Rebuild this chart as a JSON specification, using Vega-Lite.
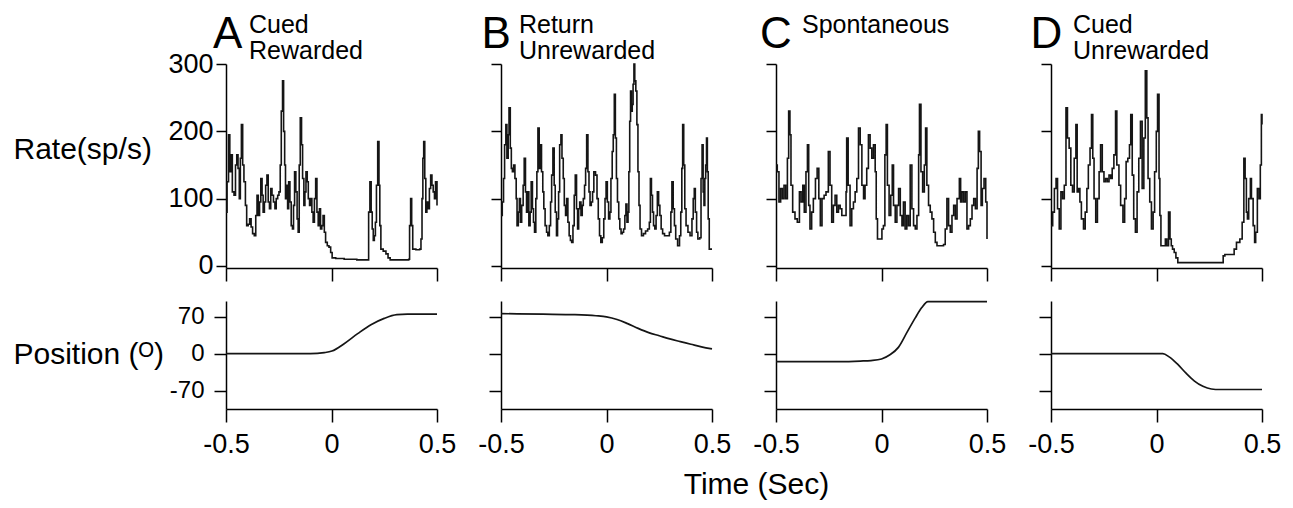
{
"$schema":"https://vega.github.io/schema/vega-lite/v6.json",
"background":"white",
"padding":{"left":13,"top":12,"right":5,"bottom":5},
"config":{"font":"Liberation Sans","view":{"stroke":null},"axis":{"domainColor":"#000","tickColor":"#000","labelColor":"#000","titleColor":"#000","domainWidth":1.5,"tickWidth":1.5,"grid":false,"labelFlush":false,"labelOverlap":false,"titleFontWeight":"normal"},"text":{"color":"#000"}},
"datasets":{
"rate":[
{"panel":"A","time":-0.5,"value":80},{"panel":"A","time":-0.495,"value":125},{"panel":"A","time":-0.488,"value":195},{"panel":"A","time":-0.482,"value":140},{"panel":"A","time":-0.477,"value":165},{"panel":"A","time":-0.47,"value":110},{"panel":"A","time":-0.462,"value":105},{"panel":"A","time":-0.455,"value":150},{"panel":"A","time":-0.449,"value":165},{"panel":"A","time":-0.443,"value":145},{"panel":"A","time":-0.437,"value":100},{"panel":"A","time":-0.432,"value":160},{"panel":"A","time":-0.427,"value":210},{"panel":"A","time":-0.421,"value":150},{"panel":"A","time":-0.415,"value":125},{"panel":"A","time":-0.408,"value":90},{"panel":"A","time":-0.402,"value":60},{"panel":"A","time":-0.395,"value":62},{"panel":"A","time":-0.388,"value":70},{"panel":"A","time":-0.381,"value":58},{"panel":"A","time":-0.374,"value":48},{"panel":"A","time":-0.366,"value":45},{"panel":"A","time":-0.359,"value":75},{"panel":"A","time":-0.353,"value":105},{"panel":"A","time":-0.347,"value":75},{"panel":"A","time":-0.341,"value":95},{"panel":"A","time":-0.335,"value":130},{"panel":"A","time":-0.329,"value":105},{"panel":"A","time":-0.324,"value":80},{"panel":"A","time":-0.318,"value":95},{"panel":"A","time":-0.312,"value":120},{"panel":"A","time":-0.306,"value":135},{"panel":"A","time":-0.3,"value":95},{"panel":"A","time":-0.294,"value":85},{"panel":"A","time":-0.288,"value":115},{"panel":"A","time":-0.282,"value":105},{"panel":"A","time":-0.275,"value":95},{"panel":"A","time":-0.268,"value":85},{"panel":"A","time":-0.262,"value":100},{"panel":"A","time":-0.255,"value":105},{"panel":"A","time":-0.249,"value":110},{"panel":"A","time":-0.243,"value":150},{"panel":"A","time":-0.238,"value":230},{"panel":"A","time":-0.232,"value":275},{"panel":"A","time":-0.227,"value":200},{"panel":"A","time":-0.222,"value":150},{"panel":"A","time":-0.218,"value":100},{"panel":"A","time":-0.213,"value":120},{"panel":"A","time":-0.208,"value":85},{"panel":"A","time":-0.203,"value":125},{"panel":"A","time":-0.197,"value":95},{"panel":"A","time":-0.191,"value":60},{"panel":"A","time":-0.185,"value":55},{"panel":"A","time":-0.18,"value":90},{"panel":"A","time":-0.175,"value":140},{"panel":"A","time":-0.169,"value":110},{"panel":"A","time":-0.163,"value":70},{"panel":"A","time":-0.158,"value":50},{"panel":"A","time":-0.153,"value":150},{"panel":"A","time":-0.148,"value":220},{"panel":"A","time":-0.142,"value":180},{"panel":"A","time":-0.137,"value":130},{"panel":"A","time":-0.131,"value":90},{"panel":"A","time":-0.126,"value":110},{"panel":"A","time":-0.121,"value":140},{"panel":"A","time":-0.115,"value":125},{"panel":"A","time":-0.11,"value":100},{"panel":"A","time":-0.104,"value":90},{"panel":"A","time":-0.098,"value":100},{"panel":"A","time":-0.093,"value":80},{"panel":"A","time":-0.087,"value":65},{"panel":"A","time":-0.081,"value":100},{"panel":"A","time":-0.075,"value":130},{"panel":"A","time":-0.069,"value":80},{"panel":"A","time":-0.063,"value":60},{"panel":"A","time":-0.057,"value":85},{"panel":"A","time":-0.052,"value":55},{"panel":"A","time":-0.046,"value":60},{"panel":"A","time":-0.04,"value":75},{"panel":"A","time":-0.034,"value":50},{"panel":"A","time":-0.028,"value":35},{"panel":"A","time":-0.02,"value":30},{"panel":"A","time":-0.012,"value":28},{"panel":"A","time":-0.004,"value":20},{"panel":"A","time":0.003,"value":12},{"panel":"A","time":0.02,"value":11},{"panel":"A","time":0.06,"value":10},{"panel":"A","time":0.12,"value":9},{"panel":"A","time":0.17,"value":9},{"panel":"A","time":0.176,"value":80},{"panel":"A","time":0.182,"value":125},{"panel":"A","time":0.188,"value":80},{"panel":"A","time":0.193,"value":55},{"panel":"A","time":0.198,"value":38},{"panel":"A","time":0.203,"value":45},{"panel":"A","time":0.208,"value":65},{"panel":"A","time":0.213,"value":120},{"panel":"A","time":0.219,"value":185},{"panel":"A","time":0.225,"value":120},{"panel":"A","time":0.229,"value":60},{"panel":"A","time":0.234,"value":25},{"panel":"A","time":0.245,"value":22},{"panel":"A","time":0.258,"value":18},{"panel":"A","time":0.268,"value":12},{"panel":"A","time":0.278,"value":9},{"panel":"A","time":0.3,"value":9},{"panel":"A","time":0.34,"value":9},{"panel":"A","time":0.366,"value":10},{"panel":"A","time":0.37,"value":60},{"panel":"A","time":0.375,"value":100},{"panel":"A","time":0.38,"value":60},{"panel":"A","time":0.385,"value":25},{"panel":"A","time":0.4,"value":24},{"panel":"A","time":0.418,"value":25},{"panel":"A","time":0.424,"value":40},{"panel":"A","time":0.429,"value":100},{"panel":"A","time":0.433,"value":160},{"panel":"A","time":0.437,"value":185},{"panel":"A","time":0.442,"value":130},{"panel":"A","time":0.447,"value":80},{"panel":"A","time":0.452,"value":95},{"panel":"A","time":0.458,"value":85},{"panel":"A","time":0.464,"value":115},{"panel":"A","time":0.47,"value":135},{"panel":"A","time":0.476,"value":120},{"panel":"A","time":0.482,"value":110},{"panel":"A","time":0.488,"value":100},{"panel":"A","time":0.493,"value":125},{"panel":"A","time":0.5,"value":90},
{"panel":"B","time":-0.5,"value":75},{"panel":"B","time":-0.494,"value":95},{"panel":"B","time":-0.488,"value":130},{"panel":"B","time":-0.483,"value":180},{"panel":"B","time":-0.477,"value":210},{"panel":"B","time":-0.472,"value":160},{"panel":"B","time":-0.466,"value":195},{"panel":"B","time":-0.462,"value":235},{"panel":"B","time":-0.456,"value":175},{"panel":"B","time":-0.451,"value":145},{"panel":"B","time":-0.446,"value":140},{"panel":"B","time":-0.44,"value":150},{"panel":"B","time":-0.434,"value":130},{"panel":"B","time":-0.428,"value":100},{"panel":"B","time":-0.424,"value":60},{"panel":"B","time":-0.418,"value":80},{"panel":"B","time":-0.413,"value":100},{"panel":"B","time":-0.408,"value":65},{"panel":"B","time":-0.402,"value":90},{"panel":"B","time":-0.395,"value":120},{"panel":"B","time":-0.39,"value":160},{"panel":"B","time":-0.384,"value":110},{"panel":"B","time":-0.379,"value":80},{"panel":"B","time":-0.374,"value":110},{"panel":"B","time":-0.368,"value":60},{"panel":"B","time":-0.362,"value":80},{"panel":"B","time":-0.357,"value":125},{"panel":"B","time":-0.351,"value":85},{"panel":"B","time":-0.346,"value":65},{"panel":"B","time":-0.341,"value":50},{"panel":"B","time":-0.335,"value":100},{"panel":"B","time":-0.33,"value":140},{"panel":"B","time":-0.325,"value":205},{"panel":"B","time":-0.319,"value":145},{"panel":"B","time":-0.314,"value":180},{"panel":"B","time":-0.308,"value":140},{"panel":"B","time":-0.302,"value":110},{"panel":"B","time":-0.297,"value":85},{"panel":"B","time":-0.291,"value":60},{"panel":"B","time":-0.284,"value":50},{"panel":"B","time":-0.278,"value":45},{"panel":"B","time":-0.271,"value":60},{"panel":"B","time":-0.265,"value":95},{"panel":"B","time":-0.26,"value":135},{"panel":"B","time":-0.254,"value":175},{"panel":"B","time":-0.248,"value":120},{"panel":"B","time":-0.243,"value":80},{"panel":"B","time":-0.237,"value":45},{"panel":"B","time":-0.232,"value":70},{"panel":"B","time":-0.227,"value":110},{"panel":"B","time":-0.222,"value":180},{"panel":"B","time":-0.216,"value":195},{"panel":"B","time":-0.211,"value":160},{"panel":"B","time":-0.205,"value":130},{"panel":"B","time":-0.2,"value":90},{"panel":"B","time":-0.194,"value":75},{"panel":"B","time":-0.189,"value":100},{"panel":"B","time":-0.183,"value":65},{"panel":"B","time":-0.177,"value":45},{"panel":"B","time":-0.171,"value":38},{"panel":"B","time":-0.165,"value":35},{"panel":"B","time":-0.159,"value":60},{"panel":"B","time":-0.153,"value":105},{"panel":"B","time":-0.148,"value":135},{"panel":"B","time":-0.142,"value":85},{"panel":"B","time":-0.137,"value":55},{"panel":"B","time":-0.132,"value":85},{"panel":"B","time":-0.127,"value":95},{"panel":"B","time":-0.121,"value":75},{"panel":"B","time":-0.115,"value":90},{"panel":"B","time":-0.11,"value":100},{"panel":"B","time":-0.104,"value":120},{"panel":"B","time":-0.099,"value":145},{"panel":"B","time":-0.094,"value":195},{"panel":"B","time":-0.088,"value":140},{"panel":"B","time":-0.083,"value":110},{"panel":"B","time":-0.078,"value":90},{"panel":"B","time":-0.072,"value":95},{"panel":"B","time":-0.066,"value":110},{"panel":"B","time":-0.06,"value":140},{"panel":"B","time":-0.052,"value":135},{"panel":"B","time":-0.045,"value":100},{"panel":"B","time":-0.039,"value":70},{"panel":"B","time":-0.033,"value":45},{"panel":"B","time":-0.027,"value":35},{"panel":"B","time":-0.02,"value":42},{"panel":"B","time":-0.013,"value":70},{"panel":"B","time":-0.007,"value":100},{"panel":"B","time":-0.002,"value":125},{"panel":"B","time":0.004,"value":95},{"panel":"B","time":0.01,"value":70},{"panel":"B","time":0.016,"value":80},{"panel":"B","time":0.021,"value":130},{"panel":"B","time":0.027,"value":170},{"panel":"B","time":0.032,"value":195},{"panel":"B","time":0.037,"value":255},{"panel":"B","time":0.042,"value":190},{"panel":"B","time":0.047,"value":130},{"panel":"B","time":0.052,"value":95},{"panel":"B","time":0.058,"value":70},{"panel":"B","time":0.063,"value":55},{"panel":"B","time":0.069,"value":48},{"panel":"B","time":0.075,"value":50},{"panel":"B","time":0.081,"value":55},{"panel":"B","time":0.087,"value":75},{"panel":"B","time":0.092,"value":92},{"panel":"B","time":0.097,"value":65},{"panel":"B","time":0.102,"value":80},{"panel":"B","time":0.106,"value":140},{"panel":"B","time":0.11,"value":215},{"panel":"B","time":0.114,"value":260},{"panel":"B","time":0.118,"value":230},{"panel":"B","time":0.122,"value":240},{"panel":"B","time":0.126,"value":270},{"panel":"B","time":0.13,"value":300},{"panel":"B","time":0.134,"value":275},{"panel":"B","time":0.139,"value":260},{"panel":"B","time":0.144,"value":210},{"panel":"B","time":0.149,"value":140},{"panel":"B","time":0.154,"value":90},{"panel":"B","time":0.159,"value":55},{"panel":"B","time":0.166,"value":45},{"panel":"B","time":0.175,"value":48},{"panel":"B","time":0.185,"value":52},{"panel":"B","time":0.195,"value":55},{"panel":"B","time":0.203,"value":65},{"panel":"B","time":0.208,"value":130},{"panel":"B","time":0.213,"value":105},{"panel":"B","time":0.218,"value":80},{"panel":"B","time":0.223,"value":60},{"panel":"B","time":0.229,"value":55},{"panel":"B","time":0.235,"value":75},{"panel":"B","time":0.241,"value":110},{"panel":"B","time":0.247,"value":90},{"panel":"B","time":0.253,"value":75},{"panel":"B","time":0.259,"value":55},{"panel":"B","time":0.266,"value":48},{"panel":"B","time":0.275,"value":45},{"panel":"B","time":0.287,"value":45},{"panel":"B","time":0.298,"value":50},{"panel":"B","time":0.305,"value":80},{"panel":"B","time":0.31,"value":125},{"panel":"B","time":0.316,"value":85},{"panel":"B","time":0.322,"value":60},{"panel":"B","time":0.328,"value":40},{"panel":"B","time":0.337,"value":30},{"panel":"B","time":0.346,"value":45},{"panel":"B","time":0.352,"value":80},{"panel":"B","time":0.357,"value":145},{"panel":"B","time":0.361,"value":210},{"panel":"B","time":0.366,"value":150},{"panel":"B","time":0.371,"value":85},{"panel":"B","time":0.377,"value":60},{"panel":"B","time":0.386,"value":50},{"panel":"B","time":0.396,"value":45},{"panel":"B","time":0.405,"value":70},{"panel":"B","time":0.411,"value":100},{"panel":"B","time":0.416,"value":115},{"panel":"B","time":0.421,"value":80},{"panel":"B","time":0.427,"value":50},{"panel":"B","time":0.433,"value":40},{"panel":"B","time":0.442,"value":42},{"panel":"B","time":0.448,"value":130},{"panel":"B","time":0.453,"value":180},{"panel":"B","time":0.458,"value":110},{"panel":"B","time":0.462,"value":90},{"panel":"B","time":0.466,"value":130},{"panel":"B","time":0.47,"value":150},{"panel":"B","time":0.474,"value":190},{"panel":"B","time":0.478,"value":140},{"panel":"B","time":0.482,"value":70},{"panel":"B","time":0.487,"value":25},{"panel":"B","time":0.5,"value":25},
{"panel":"C","time":-0.5,"value":150},{"panel":"C","time":-0.494,"value":140},{"panel":"C","time":-0.486,"value":95},{"panel":"C","time":-0.478,"value":115},{"panel":"C","time":-0.47,"value":100},{"panel":"C","time":-0.462,"value":120},{"panel":"C","time":-0.454,"value":100},{"panel":"C","time":-0.446,"value":160},{"panel":"C","time":-0.44,"value":230},{"panel":"C","time":-0.434,"value":195},{"panel":"C","time":-0.429,"value":120},{"panel":"C","time":-0.421,"value":80},{"panel":"C","time":-0.41,"value":70},{"panel":"C","time":-0.399,"value":65},{"panel":"C","time":-0.389,"value":110},{"panel":"C","time":-0.381,"value":95},{"panel":"C","time":-0.373,"value":120},{"panel":"C","time":-0.366,"value":80},{"panel":"C","time":-0.358,"value":140},{"panel":"C","time":-0.351,"value":180},{"panel":"C","time":-0.345,"value":90},{"panel":"C","time":-0.339,"value":55},{"panel":"C","time":-0.331,"value":80},{"panel":"C","time":-0.323,"value":100},{"panel":"C","time":-0.313,"value":130},{"panel":"C","time":-0.305,"value":145},{"panel":"C","time":-0.297,"value":100},{"panel":"C","time":-0.29,"value":60},{"panel":"C","time":-0.282,"value":100},{"panel":"C","time":-0.272,"value":105},{"panel":"C","time":-0.263,"value":110},{"panel":"C","time":-0.252,"value":170},{"panel":"C","time":-0.244,"value":120},{"panel":"C","time":-0.236,"value":65},{"panel":"C","time":-0.228,"value":90},{"panel":"C","time":-0.22,"value":105},{"panel":"C","time":-0.212,"value":80},{"panel":"C","time":-0.204,"value":90},{"panel":"C","time":-0.196,"value":85},{"panel":"C","time":-0.188,"value":75},{"panel":"C","time":-0.176,"value":75},{"panel":"C","time":-0.168,"value":110},{"panel":"C","time":-0.165,"value":190},{"panel":"C","time":-0.158,"value":120},{"panel":"C","time":-0.149,"value":60},{"panel":"C","time":-0.141,"value":85},{"panel":"C","time":-0.133,"value":95},{"panel":"C","time":-0.125,"value":110},{"panel":"C","time":-0.117,"value":130},{"panel":"C","time":-0.109,"value":205},{"panel":"C","time":-0.101,"value":180},{"panel":"C","time":-0.093,"value":120},{"panel":"C","time":-0.085,"value":100},{"panel":"C","time":-0.078,"value":120},{"panel":"C","time":-0.07,"value":145},{"panel":"C","time":-0.062,"value":195},{"panel":"C","time":-0.054,"value":175},{"panel":"C","time":-0.046,"value":160},{"panel":"C","time":-0.038,"value":180},{"panel":"C","time":-0.03,"value":140},{"panel":"C","time":-0.025,"value":70},{"panel":"C","time":-0.019,"value":40},{"panel":"C","time":-0.009,"value":40},{"panel":"C","time":0.002,"value":55},{"panel":"C","time":0.009,"value":60},{"panel":"C","time":0.016,"value":165},{"panel":"C","time":0.022,"value":210},{"panel":"C","time":0.028,"value":120},{"panel":"C","time":0.036,"value":75},{"panel":"C","time":0.044,"value":105},{"panel":"C","time":0.051,"value":150},{"panel":"C","time":0.057,"value":90},{"panel":"C","time":0.065,"value":65},{"panel":"C","time":0.073,"value":90},{"panel":"C","time":0.081,"value":115},{"panel":"C","time":0.089,"value":75},{"panel":"C","time":0.097,"value":60},{"panel":"C","time":0.104,"value":95},{"panel":"C","time":0.112,"value":55},{"panel":"C","time":0.12,"value":75},{"panel":"C","time":0.128,"value":60},{"panel":"C","time":0.136,"value":150},{"panel":"C","time":0.144,"value":85},{"panel":"C","time":0.152,"value":60},{"panel":"C","time":0.16,"value":55},{"panel":"C","time":0.168,"value":75},{"panel":"C","time":0.176,"value":165},{"panel":"C","time":0.18,"value":240},{"panel":"C","time":0.187,"value":140},{"panel":"C","time":0.195,"value":110},{"panel":"C","time":0.203,"value":150},{"panel":"C","time":0.209,"value":205},{"panel":"C","time":0.215,"value":120},{"panel":"C","time":0.223,"value":90},{"panel":"C","time":0.231,"value":80},{"panel":"C","time":0.239,"value":70},{"panel":"C","time":0.247,"value":50},{"panel":"C","time":0.255,"value":35},{"panel":"C","time":0.263,"value":30},{"panel":"C","time":0.294,"value":32},{"panel":"C","time":0.302,"value":55},{"panel":"C","time":0.31,"value":100},{"panel":"C","time":0.318,"value":60},{"panel":"C","time":0.326,"value":50},{"panel":"C","time":0.334,"value":75},{"panel":"C","time":0.342,"value":90},{"panel":"C","time":0.35,"value":70},{"panel":"C","time":0.358,"value":100},{"panel":"C","time":0.369,"value":130},{"panel":"C","time":0.375,"value":95},{"panel":"C","time":0.381,"value":110},{"panel":"C","time":0.389,"value":95},{"panel":"C","time":0.397,"value":110},{"panel":"C","time":0.405,"value":55},{"panel":"C","time":0.413,"value":60},{"panel":"C","time":0.421,"value":70},{"panel":"C","time":0.429,"value":90},{"panel":"C","time":0.437,"value":100},{"panel":"C","time":0.445,"value":85},{"panel":"C","time":0.453,"value":145},{"panel":"C","time":0.459,"value":200},{"panel":"C","time":0.465,"value":170},{"panel":"C","time":0.472,"value":90},{"panel":"C","time":0.478,"value":115},{"panel":"C","time":0.486,"value":130},{"panel":"C","time":0.494,"value":95},{"panel":"C","time":0.5,"value":40},
{"panel":"D","time":-0.5,"value":60},{"panel":"D","time":-0.492,"value":80},{"panel":"D","time":-0.484,"value":115},{"panel":"D","time":-0.476,"value":130},{"panel":"D","time":-0.469,"value":85},{"panel":"D","time":-0.461,"value":55},{"panel":"D","time":-0.453,"value":110},{"panel":"D","time":-0.445,"value":100},{"panel":"D","time":-0.437,"value":120},{"panel":"D","time":-0.429,"value":235},{"panel":"D","time":-0.422,"value":190},{"panel":"D","time":-0.414,"value":175},{"panel":"D","time":-0.406,"value":120},{"panel":"D","time":-0.398,"value":110},{"panel":"D","time":-0.39,"value":160},{"panel":"D","time":-0.382,"value":210},{"panel":"D","time":-0.376,"value":110},{"panel":"D","time":-0.37,"value":115},{"panel":"D","time":-0.363,"value":95},{"panel":"D","time":-0.356,"value":70},{"panel":"D","time":-0.346,"value":55},{"panel":"D","time":-0.338,"value":80},{"panel":"D","time":-0.33,"value":115},{"panel":"D","time":-0.323,"value":150},{"panel":"D","time":-0.315,"value":175},{"panel":"D","time":-0.308,"value":225},{"panel":"D","time":-0.302,"value":160},{"panel":"D","time":-0.296,"value":100},{"panel":"D","time":-0.288,"value":65},{"panel":"D","time":-0.28,"value":100},{"panel":"D","time":-0.272,"value":140},{"panel":"D","time":-0.265,"value":180},{"panel":"D","time":-0.257,"value":140},{"panel":"D","time":-0.249,"value":125},{"panel":"D","time":-0.241,"value":130},{"panel":"D","time":-0.233,"value":125},{"panel":"D","time":-0.225,"value":135},{"panel":"D","time":-0.217,"value":130},{"panel":"D","time":-0.21,"value":145},{"panel":"D","time":-0.202,"value":165},{"panel":"D","time":-0.194,"value":230},{"panel":"D","time":-0.188,"value":150},{"panel":"D","time":-0.178,"value":120},{"panel":"D","time":-0.17,"value":90},{"panel":"D","time":-0.159,"value":65},{"panel":"D","time":-0.151,"value":100},{"panel":"D","time":-0.144,"value":155},{"panel":"D","time":-0.136,"value":160},{"panel":"D","time":-0.128,"value":180},{"panel":"D","time":-0.122,"value":225},{"panel":"D","time":-0.115,"value":135},{"panel":"D","time":-0.108,"value":70},{"panel":"D","time":-0.1,"value":50},{"panel":"D","time":-0.092,"value":110},{"panel":"D","time":-0.084,"value":160},{"panel":"D","time":-0.076,"value":215},{"panel":"D","time":-0.068,"value":115},{"panel":"D","time":-0.06,"value":190},{"panel":"D","time":-0.053,"value":290},{"panel":"D","time":-0.046,"value":220},{"panel":"D","time":-0.04,"value":130},{"panel":"D","time":-0.032,"value":95},{"panel":"D","time":-0.024,"value":55},{"panel":"D","time":-0.016,"value":80},{"panel":"D","time":-0.009,"value":140},{"panel":"D","time":-0.001,"value":200},{"panel":"D","time":0.005,"value":255},{"panel":"D","time":0.012,"value":130},{"panel":"D","time":0.016,"value":75},{"panel":"D","time":0.021,"value":30},{"panel":"D","time":0.034,"value":30},{"panel":"D","time":0.042,"value":40},{"panel":"D","time":0.049,"value":30},{"panel":"D","time":0.057,"value":80},{"panel":"D","time":0.064,"value":40},{"panel":"D","time":0.07,"value":30},{"panel":"D","time":0.076,"value":25},{"panel":"D","time":0.084,"value":20},{"panel":"D","time":0.092,"value":12},{"panel":"D","time":0.101,"value":5},{"panel":"D","time":0.199,"value":5},{"panel":"D","time":0.308,"value":5},{"panel":"D","time":0.316,"value":15},{"panel":"D","time":0.324,"value":17},{"panel":"D","time":0.356,"value":17},{"panel":"D","time":0.368,"value":25},{"panel":"D","time":0.379,"value":35},{"panel":"D","time":0.395,"value":40},{"panel":"D","time":0.406,"value":65},{"panel":"D","time":0.414,"value":160},{"panel":"D","time":0.42,"value":130},{"panel":"D","time":0.426,"value":80},{"panel":"D","time":0.431,"value":70},{"panel":"D","time":0.437,"value":100},{"panel":"D","time":0.445,"value":130},{"panel":"D","time":0.45,"value":100},{"panel":"D","time":0.458,"value":60},{"panel":"D","time":0.465,"value":35},{"panel":"D","time":0.47,"value":50},{"panel":"D","time":0.478,"value":115},{"panel":"D","time":0.486,"value":100},{"panel":"D","time":0.492,"value":150},{"panel":"D","time":0.497,"value":225},{"panel":"D","time":0.5,"value":210}
],
"pos":[
{"panel":"A","time":-0.5,"value":0},{"panel":"A","time":-0.3,"value":0},{"panel":"A","time":-0.1,"value":0},{"panel":"A","time":-0.034,"value":2},{"panel":"A","time":0.002,"value":5},{"panel":"A","time":0.06,"value":19},{"panel":"A","time":0.124,"value":38},{"panel":"A","time":0.187,"value":55},{"panel":"A","time":0.25,"value":67},{"panel":"A","time":0.31,"value":74},{"panel":"A","time":0.36,"value":75},{"panel":"A","time":0.5,"value":75},
{"panel":"B","time":-0.5,"value":76},{"panel":"B","time":-0.3,"value":75},{"panel":"B","time":-0.15,"value":74},{"panel":"B","time":-0.05,"value":72},{"panel":"B","time":0,"value":70},{"panel":"B","time":0.05,"value":65},{"panel":"B","time":0.1,"value":57},{"panel":"B","time":0.15,"value":48},{"panel":"B","time":0.2,"value":40},{"panel":"B","time":0.25,"value":34},{"panel":"B","time":0.3,"value":28},{"panel":"B","time":0.35,"value":23},{"panel":"B","time":0.4,"value":18},{"panel":"B","time":0.45,"value":13},{"panel":"B","time":0.5,"value":9},
{"panel":"C","time":-0.5,"value":-15},{"panel":"C","time":-0.2,"value":-15},{"panel":"C","time":-0.1,"value":-14},{"panel":"C","time":-0.05,"value":-13},{"panel":"C","time":0,"value":-10},{"panel":"C","time":0.04,"value":-2},{"panel":"C","time":0.08,"value":12},{"panel":"C","time":0.12,"value":40},{"panel":"C","time":0.16,"value":68},{"panel":"C","time":0.19,"value":87},{"panel":"C","time":0.22,"value":99},{"panel":"C","time":0.25,"value":99},{"panel":"C","time":0.5,"value":99},
{"panel":"D","time":-0.5,"value":0},{"panel":"D","time":0,"value":0},{"panel":"D","time":0.03,"value":0},{"panel":"D","time":0.06,"value":-6},{"panel":"D","time":0.1,"value":-20},{"panel":"D","time":0.14,"value":-37},{"panel":"D","time":0.18,"value":-52},{"panel":"D","time":0.22,"value":-62},{"panel":"D","time":0.26,"value":-67},{"panel":"D","time":0.3,"value":-68},{"panel":"D","time":0.5,"value":-68}
]
},
"columns":4,
"spacing":{"row":33,"column":64},
"bounds":"flush",
"concat":[
{"width":211,"height":204,"layer":[
{"data":{"name":"rate"},"transform":[{"filter":"datum.panel==='A'"}],"mark":{"type":"line","interpolate":"step-after","color":"#151515","strokeWidth":1.6},
"encoding":{"x":{"field":"time","type":"quantitative","scale":{"domain":[-0.5,0.5],"nice":false},"axis":{"values":[-0.5,0,0.5],"labels":false,"title":null,"tickSize":13}},
"y":{"field":"value","type":"quantitative","scale":{"domain":[-3,300],"nice":false,"zero":false},"axis":{"values":[0,100,200,300],"tickSize":10,"labelPadding":3,"labelFontSize":27,"title":"Rate(sp/s)","titleAngle":0,"titleAlign":"left","titleBaseline":"alphabetic","titleX":-213,"titleY":94,"titleFontSize":30}}}},
{"data":{"values":[{}]},"mark":{"type":"text","fontSize":44,"align":"left","baseline":"alphabetic"},"encoding":{"x":{"datum":-0.562},"y":{"datum":324},"text":{"value":"A"}}},
{"data":{"values":[{}]},"mark":{"type":"text","fontSize":25,"align":"left","baseline":"alphabetic","lineHeight":26},"encoding":{"x":{"datum":-0.391},"y":{"datum":346},"text":{"value":["Cued","Rewarded"]}}}
]},
{"width":211,"height":204,"layer":[
{"data":{"name":"rate"},"transform":[{"filter":"datum.panel==='B'"}],"mark":{"type":"line","interpolate":"step-after","color":"#151515","strokeWidth":1.6},
"encoding":{"x":{"field":"time","type":"quantitative","scale":{"domain":[-0.5,0.5],"nice":false},"axis":{"values":[-0.5,0,0.5],"labels":false,"title":null,"tickSize":13}},
"y":{"field":"value","type":"quantitative","scale":{"domain":[-3,300],"nice":false,"zero":false},"axis":{"values":[0,100,200,300],"tickSize":10,"labels":false,"title":null}}}},
{"data":{"values":[{}]},"mark":{"type":"text","fontSize":44,"align":"left","baseline":"alphabetic"},"encoding":{"x":{"datum":-0.593},"y":{"datum":324},"text":{"value":"B"}}},
{"data":{"values":[{}]},"mark":{"type":"text","fontSize":25,"align":"left","baseline":"alphabetic","lineHeight":26},"encoding":{"x":{"datum":-0.415},"y":{"datum":346},"text":{"value":["Return","Unrewarded"]}}}
]},
{"width":211,"height":204,"layer":[
{"data":{"name":"rate"},"transform":[{"filter":"datum.panel==='C'"}],"mark":{"type":"line","interpolate":"step-after","color":"#151515","strokeWidth":1.6},
"encoding":{"x":{"field":"time","type":"quantitative","scale":{"domain":[-0.5,0.5],"nice":false},"axis":{"values":[-0.5,0,0.5],"labels":false,"title":null,"tickSize":13}},
"y":{"field":"value","type":"quantitative","scale":{"domain":[-3,300],"nice":false,"zero":false},"axis":{"values":[0,100,200,300],"tickSize":10,"labels":false,"title":null}}}},
{"data":{"values":[{}]},"mark":{"type":"text","fontSize":44,"align":"left","baseline":"alphabetic"},"encoding":{"x":{"datum":-0.576},"y":{"datum":324},"text":{"value":"C"}}},
{"data":{"values":[{}]},"mark":{"type":"text","fontSize":25,"align":"left","baseline":"alphabetic","lineHeight":26},"encoding":{"x":{"datum":-0.377},"y":{"datum":346},"text":{"value":"Spontaneous"}}}
]},
{"width":211,"height":204,"layer":[
{"data":{"name":"rate"},"transform":[{"filter":"datum.panel==='D'"}],"mark":{"type":"line","interpolate":"step-after","color":"#151515","strokeWidth":1.6},
"encoding":{"x":{"field":"time","type":"quantitative","scale":{"domain":[-0.5,0.5],"nice":false},"axis":{"values":[-0.5,0,0.5],"labels":false,"title":null,"tickSize":13}},
"y":{"field":"value","type":"quantitative","scale":{"domain":[-3,300],"nice":false,"zero":false},"axis":{"values":[0,100,200,300],"tickSize":10,"labels":false,"title":null}}}},
{"data":{"values":[{}]},"mark":{"type":"text","fontSize":44,"align":"left","baseline":"alphabetic"},"encoding":{"x":{"datum":-0.597},"y":{"datum":324},"text":{"value":"D"}}},
{"data":{"values":[{}]},"mark":{"type":"text","fontSize":25,"align":"left","baseline":"alphabetic","lineHeight":26},"encoding":{"x":{"datum":-0.396},"y":{"datum":346},"text":{"value":["Cued","Unrewarded"]}}}
]},
{"width":211,"height":108,"data":{"name":"pos"},"transform":[{"filter":"datum.panel==='A'"}],"mark":{"type":"line","interpolate":"monotone","color":"#151515","strokeWidth":1.7},
"encoding":{"x":{"field":"time","type":"quantitative","scale":{"domain":[-0.5,0.5],"nice":false},"axis":{"values":[-0.5,0,0.5],"tickSize":13,"labelPadding":9,"labelFontSize":27,"labelExpr":"datum.value == 0 ? '0' : replace(datum.label,'−','-')","title":null}},
"y":{"field":"value","type":"quantitative","scale":{"domain":[-105,100],"nice":false,"zero":false},"axis":{"values":[-70,0,70],"tickSize":12,"labelPadding":10,"labelFontSize":24,"labelExpr":"replace(datum.label,'−','-')","title":"Position (ᴼ)","titleAngle":0,"titleAlign":"left","titleBaseline":"alphabetic","titleX":-213,"titleY":62,"titleFontSize":30}}}},
{"width":211,"height":108,"data":{"name":"pos"},"transform":[{"filter":"datum.panel==='B'"}],"mark":{"type":"line","interpolate":"monotone","color":"#151515","strokeWidth":1.7},
"encoding":{"x":{"field":"time","type":"quantitative","scale":{"domain":[-0.5,0.5],"nice":false},"axis":{"values":[-0.5,0,0.5],"tickSize":13,"labelPadding":9,"labelFontSize":27,"labelExpr":"datum.value == 0 ? '0' : replace(datum.label,'−','-')","title":"Time (Sec)","titleFontSize":30,"titleX":255,"titleY":84,"titleAlign":"center","titleBaseline":"alphabetic"}},
"y":{"field":"value","type":"quantitative","scale":{"domain":[-105,100],"nice":false,"zero":false},"axis":{"values":[-70,0,70],"tickSize":12,"labels":false,"title":null}}}},
{"width":211,"height":108,"data":{"name":"pos"},"transform":[{"filter":"datum.panel==='C'"}],"mark":{"type":"line","interpolate":"monotone","color":"#151515","strokeWidth":1.7},
"encoding":{"x":{"field":"time","type":"quantitative","scale":{"domain":[-0.5,0.5],"nice":false},"axis":{"values":[-0.5,0,0.5],"tickSize":13,"labelPadding":9,"labelFontSize":27,"labelExpr":"datum.value == 0 ? '0' : replace(datum.label,'−','-')","title":null}},
"y":{"field":"value","type":"quantitative","scale":{"domain":[-105,100],"nice":false,"zero":false},"axis":{"values":[-70,0,70],"tickSize":12,"labels":false,"title":null}}}},
{"width":211,"height":108,"data":{"name":"pos"},"transform":[{"filter":"datum.panel==='D'"}],"mark":{"type":"line","interpolate":"monotone","color":"#151515","strokeWidth":1.7},
"encoding":{"x":{"field":"time","type":"quantitative","scale":{"domain":[-0.5,0.5],"nice":false},"axis":{"values":[-0.5,0,0.5],"tickSize":13,"labelPadding":9,"labelFontSize":27,"labelExpr":"datum.value == 0 ? '0' : replace(datum.label,'−','-')","title":null}},
"y":{"field":"value","type":"quantitative","scale":{"domain":[-105,100],"nice":false,"zero":false},"axis":{"values":[-70,0,70],"tickSize":12,"labels":false,"title":null}}}}
]
}
